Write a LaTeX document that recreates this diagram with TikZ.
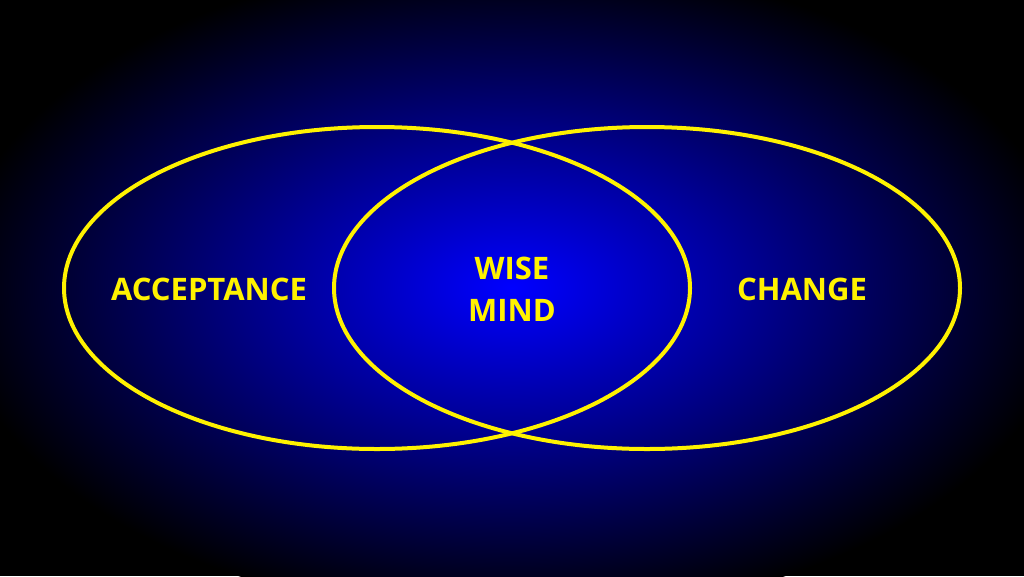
\documentclass[tikz,border=0pt]{standalone}
\usepackage{fontspec}
\setmainfont{Open Sans}
\tikzset{
  ring/.style={draw=yellow, line width=4pt},
  label/.style={text=yellow, font=\bfseries\fontsize{31}{42}\selectfont, align=center}
}
\begin{document}
\begin{tikzpicture}[x=1pt,y=-1pt]
  % Background
  \fill[black] (0,0) rectangle (1024,576);
  \useasboundingbox (0,0) rectangle (1024,576);
  \begin{scope}
    \clip (0,0) rectangle (1024,576);
    \shade[inner color={rgb,255:red,0;green,0;blue,255}, outer color=black]
      (512,288) ellipse (560 and 330);
  \end{scope}

  % Circles
  \draw[ring] (377,288) ellipse (313 and 161);
  \draw[ring] (647,288) ellipse (313 and 161);

  % Labels
  \node[label] (acceptance) at (209,289) {ACCEPTANCE};
  \node[label] (wise) at (512,289) {WISE\\MIND};
  \node[label] (change) at (802,289) {CHANGE};
\end{tikzpicture}
\end{document}
